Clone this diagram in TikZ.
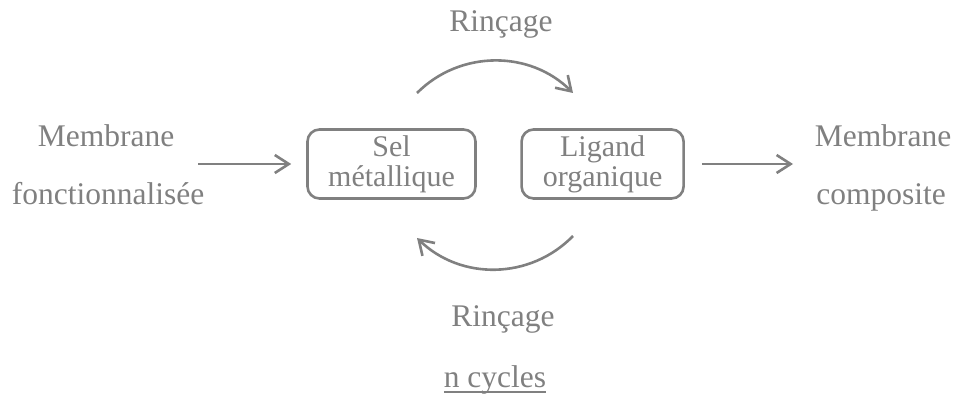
\documentclass[tikz,border=0pt]{standalone}
\usepackage{fontspec}
\setmainfont{Liberation Serif}
\usepackage{tikz}
\usetikzlibrary{positioning, arrows.meta}
\usepackage{xcolor}
\definecolor{ink}{RGB}{128,128,128}
\newcommand{\ulinetext}[1]{\setbox0\hbox{#1}\rlap{\rule[-5pt]{\wd0}{1.6pt}}\box0}

\begin{document}
\begin{tikzpicture}[
  x=1pt, y=1pt,
  node distance=43.5pt,
  font=\fontsize{30}{30}\selectfont,
  every node/.style={text=ink, inner sep=0pt},
  block/.style={
    rectangle,
    draw=ink,
    line width=2.6pt,
    align=center,
    rounded corners=12pt,
    minimum width=168pt,
    minimum height=69pt
  },
  label/.style={anchor=base, font=\fontsize{31.5}{31.5}\selectfont},
  arrow/.style={-{Straight Barb[length=14pt, width=18pt]}, line width=2.6pt, draw=ink}
]
  \useasboundingbox (0,0) rectangle (958,396);

  % Nodes
  \node (sel) [block] at (391.5,232) {Sel\\métallique};
  \node (lig) [block, minimum width=162pt, right=of sel] {Ligand\\organique};

  \node (membraneA) [label] at (106,249) {Membrane};
  \node (fonct)     [label] at (108,191) {fonctionnalisée};
  \node (membraneB) [label] at (883,249) {Membrane};
  \node (compo)     [label] at (881,191) {composite};

  \node (rincA)  [label] at (501,364) {Rinçage};
  \node (rincB)  [label] at (503,69)  {Rinçage};
  \node (cycles) [label] at (495,8)   {\ulinetext{n cycles}};

  \coordinate (in)  at (198,232);
  \coordinate (out) at (793,232);
  \coordinate (topA) at (417,303);
  \coordinate (topB) at (573,303);
  \coordinate (botA) at (573,160);
  \coordinate (botB) at (417,158);

  % Arrows
  \draw [arrow, shorten >=15pt] (in) -- (sel.west);
  \draw [arrow, shorten <=17pt] (lig.east) -- (out);
  \draw [arrow] (topA) to[bend left=45] (topB);
  \draw [arrow] (botA) to[bend left=45] (botB);

\end{tikzpicture}
\end{document}
